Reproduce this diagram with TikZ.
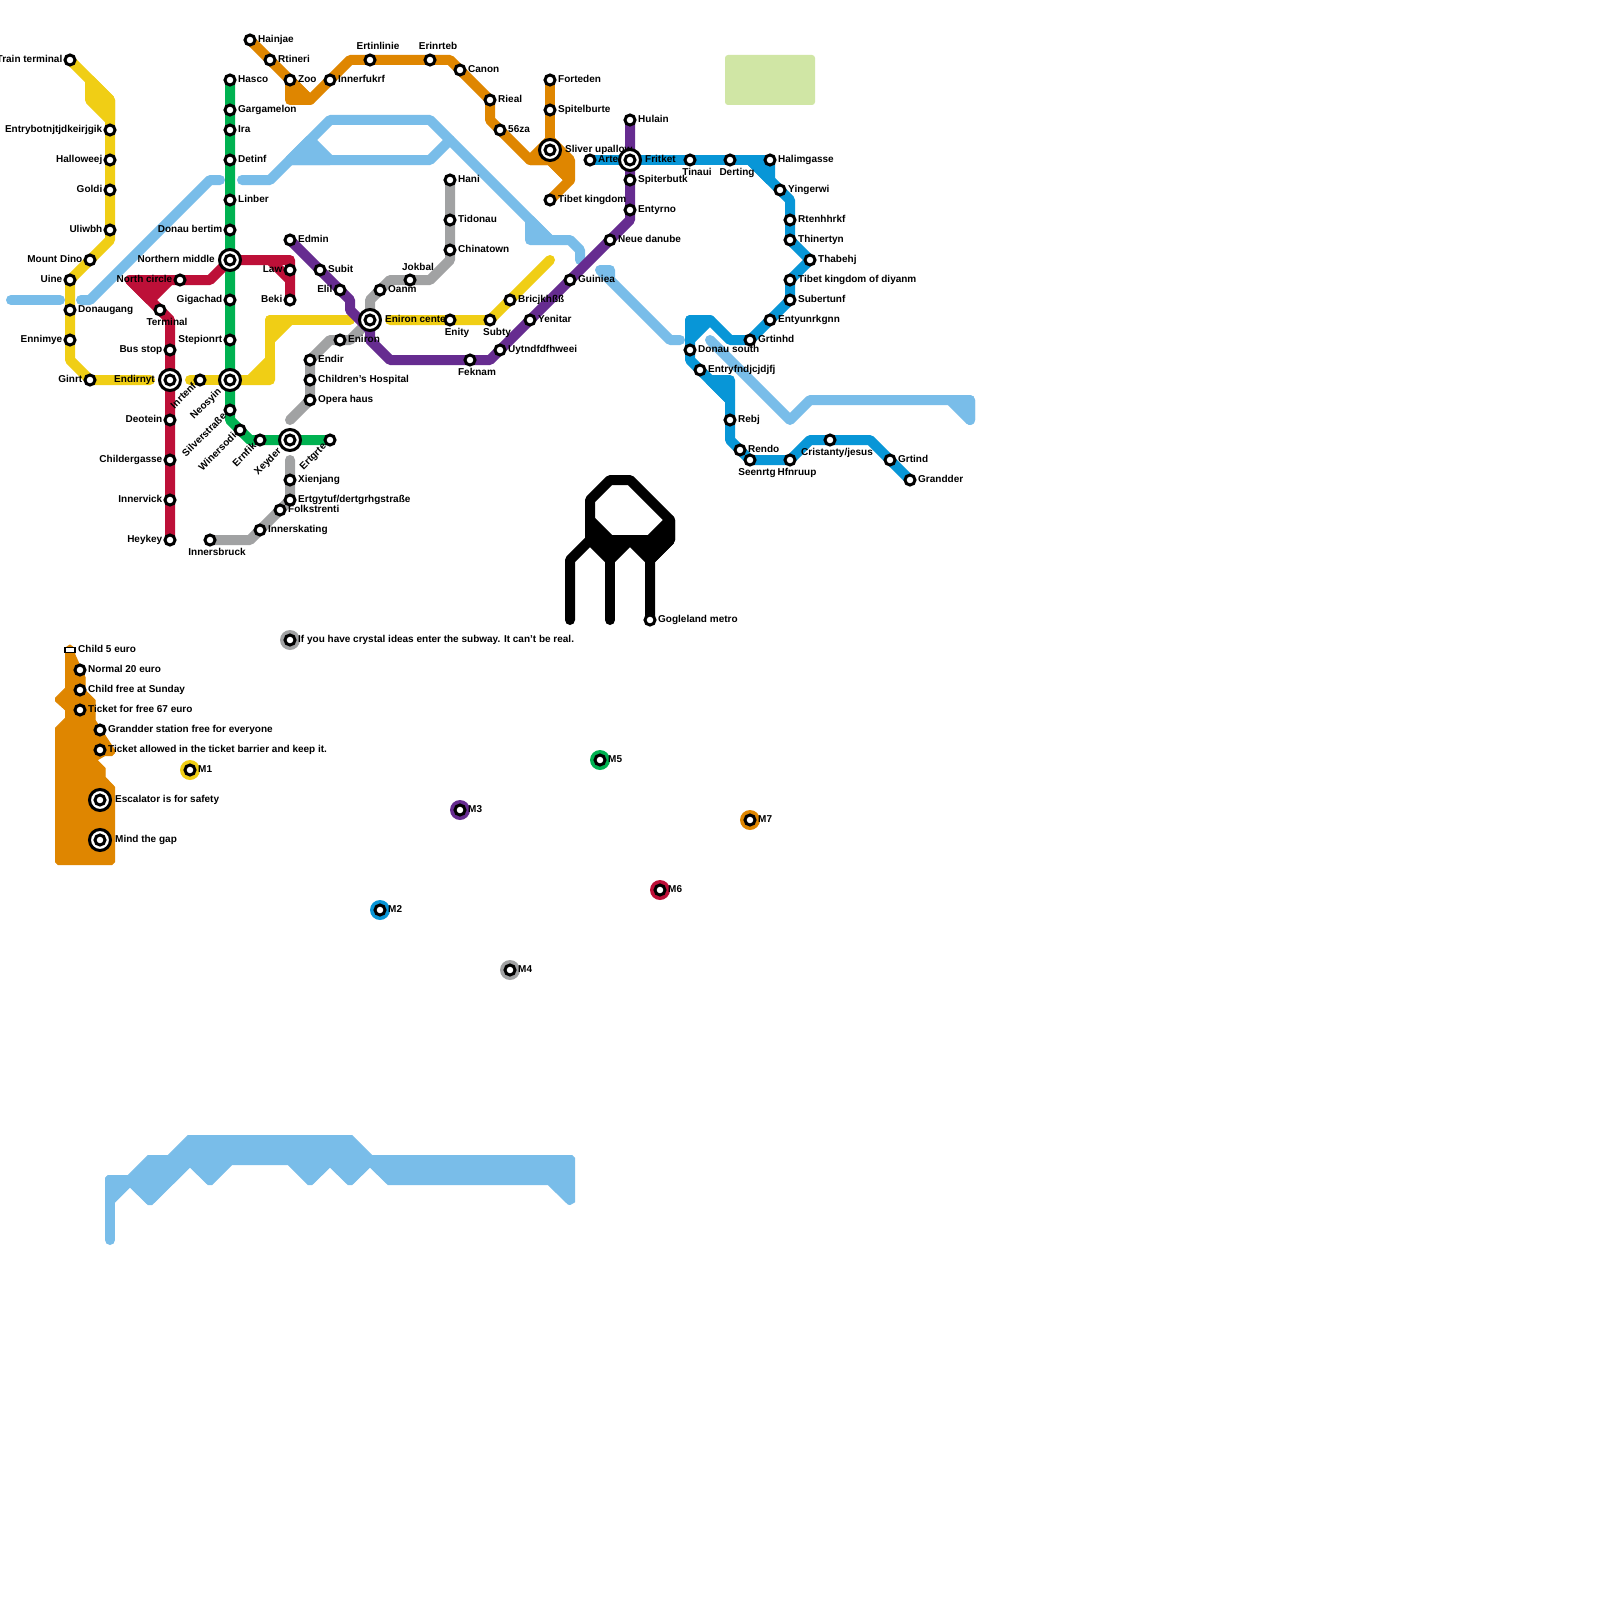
\documentclass[tikz,border=0pt]{standalone}
\usepackage{fontspec}
\setmainfont{Liberation Sans}
\pgfdeclarelayer{lines}\pgfdeclarelayer{labels}
\pgfsetlayers{lines,labels,main}
\definecolor{myyellow}{HTML}{F0CE15}
\definecolor{mygreen}{HTML}{00B251}
\definecolor{myred}{HTML}{BD1038}
\definecolor{myblue}{HTML}{0896D7}
\definecolor{mypurple}{HTML}{662C90}
\definecolor{mygray}{HTML}{A1A2A3}
\definecolor{myorange}{HTML}{DF8600}
\definecolor{mysky}{HTML}{79BDE9}
\definecolor{mypale}{HTML}{D0E6A5}
\tikzset{
 stn/.style={circle,draw=black,fill=white,line width=3pt,minimum size=10pt,inner sep=0pt},
 ringo/.style={circle,draw=black,fill=white,line width=3pt,minimum size=21pt,inner sep=0pt},
 lbl/.style={font=\fontsize{10}{10}\selectfont\bfseries,inner sep=0pt,text=black},
 metro/.style={line width=10pt,line cap=round,line join=round},
 ly/.style={metro,draw=myyellow},
 lg/.style={metro,draw=mygreen},
 lr/.style={metro,draw=myred},
 lb/.style={metro,draw=myblue},
 lp/.style={metro,draw=mypurple},
 la/.style={metro,draw=mygray},
 lo/.style={metro,draw=myorange},
 ls/.style={metro,draw=mysky},
 lk/.style={metro,draw=black},
 disc/.style={circle,minimum size=20pt,inner sep=0pt},
}
\newcommand\PutLab[5]{\begin{pgfonlayer}{labels}\node[lbl,#1] (#2-t) at (#3,#4) {#5};\end{pgfonlayer}}
\newcommand\SR[4]{\node[stn] (#1) at (#2,#3) {};\PutLab{anchor=base west}{#1}{#2+8}{#3+2.7}{#4}}
\newcommand\SL[4]{\node[stn] (#1) at (#2,#3) {};\PutLab{anchor=base east}{#1}{#2-7.5}{#3+2.7}{#4}}
\newcommand\SB[4]{\node[stn] (#1) at (#2,#3) {};\PutLab{anchor=base}{#1}{#2+7}{#3+15}{#4}}
\newcommand\SA[4]{\node[stn] (#1) at (#2,#3) {};\PutLab{anchor=base}{#1}{#2+8}{#3-10}{#4}}
\newcommand\SD[4]{\node[stn] (#1) at (#2,#3) {};\PutLab{anchor=mid east,rotate=45}{#1}{#2-5}{#3+5}{#4}}
\newcommand\IX[3]{\node[ringo] (#1-o) at (#2,#3) {};\node[stn] (#1) at (#2,#3) {};}
\newcommand\IR[4]{\IX{#1}{#2}{#3}\PutLab{anchor=base west}{#1}{#2+15}{#3+2.7}{#4}}
\newcommand\IL[4]{\IX{#1}{#2}{#3}\PutLab{anchor=base east}{#1}{#2-15}{#3+2.7}{#4}}
\newcommand\ID[4]{\IX{#1}{#2}{#3}\PutLab{anchor=mid east,rotate=45}{#1}{#2-10}{#3+10}{#4}}
\newcommand\Disc[4]{\begin{pgfonlayer}{lines}\node[disc,fill=#1] (#2) at (#3,#4) {};\end{pgfonlayer}}
\begin{document}
\begin{tikzpicture}[x=1pt,y=-1pt]
\useasboundingbox (0,0) rectangle (1600,1600);
\begin{pgfonlayer}{lines}
\fill[white] (0,0) rectangle (1600,1600);
\end{pgfonlayer}
% M1 yellow
\SL{trainterminal}{70}{60}{Train terminal}
\SL{entrybot}{110}{130}{Entrybotnjtjdkeirjgik}
\SL{halloweej}{110}{160}{Halloweej}
\SL{goldi}{110}{190}{Goldi}
\SL{uliwbh}{110}{230}{Uliwbh}
\SL{mountdino}{90}{260}{Mount Dino}
\SL{uine}{70}{280}{Uine}
\SR{donaugang}{70}{310}{Donaugang}
\SL{ennimye}{70}{340}{Ennimye}
\SL{ginrt}{90}{380}{Ginrt}
\IL{endirnyt}{170}{380}{Endirnyt}
\SD{inrtenf}{200}{380}{Inrtenf}
\ID{neosyin}{230}{380}{Neosyin}
\IR{enironc}{370}{320}{Eniron center}
\SB{enity}{450}{320}{Enity}
\SB{subty}{490}{320}{Subty}
\SR{bric}{510}{300}{Bricjkhßß}
% M5 green
\SR{hasco}{230}{80}{Hasco}
\SR{gargamelon}{230}{110}{Gargamelon}
\SR{ira}{230}{130}{Ira}
\SR{detinf}{230}{160}{Detinf}
\SR{linber}{230}{200}{Linber}
\SL{donaubertim}{230}{230}{Donau bertim}
\IL{northernmiddle}{230}{260}{Northern middle}
\SL{gigachad}{230}{300}{Gigachad}
\SL{stepionrt}{230}{340}{Stepionrt}
\SD{silver}{230}{410}{Silverstraße}
\SD{winersodi}{240}{430}{Winersodi}
\SD{ernfik}{260}{440}{Ernfik}
\ID{xeyder}{290}{440}{Xeyder}
\SD{ertgrte}{330}{440}{Ertgrte}
% M6 red
\SL{law}{290}{270}{Law}
\SL{beki}{290}{300}{Beki}
\SL{northcircle}{180}{280}{North circle}
\SB{terminal}{160}{310}{Terminal}
\SL{busstop}{170}{350}{Bus stop}
\SL{deotein}{170}{420}{Deotein}
\SL{childergasse}{170}{460}{Childergasse}
\SL{innervick}{170}{500}{Innervick}
\SL{heykey}{170}{540}{Heykey}
% M3 purple
\SR{edmin}{290}{240}{Edmin}
\SR{subit}{320}{270}{Subit}
\SL{elil}{340}{290}{Elil}
\SB{feknam}{470}{360}{Feknam}
\SR{uytn}{500}{350}{Uytndfdfhweei}
\SR{yenitar}{530}{320}{Yenitar}
\SR{guiniea}{570}{280}{Guiniea}
\SR{neuedanube}{610}{240}{Neue danube}
\SR{entyrno}{630}{210}{Entyrno}
\SR{spiterbutk}{630}{180}{Spiterbutk}
\IR{fritket}{630}{160}{Fritket}
\SR{hulain}{630}{120}{Hulain}
% M4 gray
\SR{hani}{450}{180}{Hani}
\SR{tidonau}{450}{220}{Tidonau}
\SR{chinatown}{450}{250}{Chinatown}
\SA{jokbal}{410}{280}{Jokbal}
\SR{oanm}{380}{290}{Oanm}
\SR{eniron}{340}{340}{Eniron}
\SR{endir}{310}{360}{Endir}
\SR{childrens}{310}{380}{Children’s Hospital}
\SR{opera}{310}{400}{Opera haus}
\SR{xienjang}{290}{480}{Xienjang}
\SR{ertgytuf}{290}{500}{Ertgytuf/dertgrhgstraße}
\SR{folkstrenti}{280}{510}{Folkstrenti}
\SR{innerskating}{260}{530}{Innerskating}
\SB{innersbruck}{210}{540}{Innersbruck}
% M7 orange
\SR{hainjae}{250}{40}{Hainjae}
\SR{rtineri}{270}{60}{Rtineri}
\SR{zoo}{290}{80}{Zoo}
\SR{innerfukrf}{330}{80}{Innerfukrf}
\SA{ertinlinie}{370}{60}{Ertinlinie}
\SA{erinrteb}{430}{60}{Erinrteb}
\SR{canon}{460}{70}{Canon}
\SR{rieal}{490}{100}{Rieal}
\SR{za56}{500}{130}{56za}
\SR{forteden}{550}{80}{Forteden}
\SR{spitelburte}{550}{110}{Spitelburte}
\IR{sliver}{550}{150}{Sliver upallow}
\SR{tibetk}{550}{200}{Tibet kingdom}
% M2 blue
\SR{arte}{590}{160}{Arte}
\SB{tinaui}{690}{160}{Tinaui}
\SB{derting}{730}{160}{Derting}
\SR{halimgasse}{770}{160}{Halimgasse}
\SR{yingerwi}{780}{190}{Yingerwi}
\SR{rtenhhrkf}{790}{220}{Rtenhhrkf}
\SR{thinertyn}{790}{240}{Thinertyn}
\SR{thabehj}{810}{260}{Thabehj}
\SR{tibetd}{790}{280}{Tibet kingdom of diyanm}
\SR{subertunf}{790}{300}{Subertunf}
\SR{entyun}{770}{320}{Entyunrkgnn}
\SR{grtinhd}{750}{340}{Grtinhd}
\SR{donausouth}{690}{350}{Donau south}
\SR{entryf}{700}{370}{Entryfndjcjdjfj}
\SR{rebj}{730}{420}{Rebj}
\SR{rendo}{740}{450}{Rendo}
\SB{seenrtg}{750}{460}{Seenrtg}
\SB{hfnruup}{790}{460}{Hfnruup}
\SB{cristanty}{830}{440}{Cristanty/jesus}
\SR{grtind}{890}{460}{Grtind}
\SR{grandder}{910}{480}{Grandder}
% black
\SR{gogleland}{650}{620}{Gogleland metro}
% legend
\node[draw=black,fill=white,line width=1.5pt,minimum width=10pt,minimum height=5pt,inner sep=0pt] (child5) at (70,650) {};
\PutLab{anchor=base west}{child5}{78}{652.7}{Child 5 euro}
\SR{normal20}{80}{670}{Normal 20 euro}
\SR{childfree}{80}{690}{Child free at Sunday}
\SR{ticketfree}{80}{710}{Ticket for free 67 euro}
\SR{granddersf}{100}{730}{Grandder station free for everyone}
\SR{ticketallowed}{100}{750}{Ticket allowed in the ticket barrier and keep it.}
\IR{escalator}{100}{800}{Escalator is for safety}
\IR{mindgap}{100}{840}{Mind the gap}
% discs
\SR{crystal}{290}{640}{If you have crystal ideas enter the subway. It can’t be real.}
\SR{m1}{190}{770}{M1}
\SR{m2}{380}{910}{M2}
\SR{m3}{460}{810}{M3}
\SR{m4}{510}{970}{M4}
\SR{m5}{600}{760}{M5}
\SR{m6}{660}{890}{M6}
\SR{m7}{750}{820}{M7}
\Disc{mygray}{d0}{290}{640}
\Disc{myyellow}{d1}{190}{770}
\Disc{myblue}{d2}{380}{910}
\Disc{mypurple}{d3}{460}{810}
\Disc{mygray}{d4}{510}{970}
\Disc{mygreen}{d5}{600}{760}
\Disc{myred}{d6}{660}{890}
\Disc{myorange}{d7}{750}{820}

\begin{pgfonlayer}{lines}
% pale block
\fill[mypale,rounded corners=3pt] (725,55) rectangle (815,105);
% sky
\draw[ls] (11,300) -- (60,300);
\draw[ls] (81,300) -- (90,300) -- (210,180) -- (220,180);
\draw[ls] (242,180) -- (270,180) -- (330,120) -- (430,120) -- (530,220) -- (550,240) -- (570,240) -- (580,250) -- (580,260);
\draw[ls] (290,160) -- (430,160) -- (450,140);
\draw[ls,fill=mysky] (290,160) -- (310,140) -- (330,160) -- cycle;
\draw[ls,fill=mysky] (530,220) -- (530,240) -- (550,240) -- cycle;
\draw[ls] (600,270) -- (610,270) -- (610,280) -- (600,270) -- (670,340) -- (680,340);
\draw[ls] (710,340) -- (790,420) -- (810,400) -- (970,400) -- (970,420);
\draw[ls,fill=mysky] (950,400) -- (970,400) -- (970,420) -- cycle;
\draw[ls] (110,1240) -- (110,1180);
\fill[mysky,draw=mysky,line width=1pt,line join=round] (105.5,1178) -- (108,1175.5) -- (128,1175.5) -- (148,1155.5) -- (168,1155.5) -- (188,1135.5) -- (352,1135.5) -- (372,1155.5) -- (572,1155.5) -- (574.5,1158) -- (574.5,1202) -- (570,1204.5) -- (568,1204) -- (548,1184.5) -- (388,1184.5) -- (370,1167) -- (352,1184.5) -- (348,1184.5) -- (330,1167) -- (312,1184.5) -- (308,1184.5) -- (288,1164.5) -- (232,1164.5) -- (212,1184.5) -- (208,1184.5) -- (190,1167) -- (152,1204.5) -- (148,1204.5) -- (130,1187) -- (115,1202) -- (105.5,1202) -- cycle;
% orange
\draw[lo] (hainjae.center) -- (rtineri.center) -- (zoo.center) -- (310,100) -- (innerfukrf.center) -- (350,60) -- (ertinlinie.center) -- (erinrteb.center) -- (450,60) -- (canon.center) -- (rieal.center) -- (490,120) -- (za56.center) -- (530,160) -- (550,160) -- (570,180) -- (tibetk.center);
\draw[lo,fill=myorange] (zoo.center) -- (290,100) -- (310,100) -- cycle;
\draw[lo] (forteden.center) -- (spitelburte.center) -- (sliver.center);
\draw[lo,fill=myorange] (530,160) -- (550,140) -- (570,160) -- (570,180) -- (550,160) -- cycle;
\fill[myorange,draw=myorange,line width=1pt,line join=round] (70,645) -- (74,648) -- (75,655) -- (85,677) -- (85,690) -- (95,700) -- (95,720) -- (114.5,750) -- (114.5,753) -- (112,755.5) -- (105,755.5) -- (97,760) -- (105,768) -- (105,777) -- (114.5,787) -- (114.5,862) -- (112,864.5) -- (58,864.5) -- (55.5,862) -- (55.5,728) -- (65.5,718) -- (65.5,710) -- (55.5,701) -- (55.5,698) -- (65.5,688) -- (65.5,648) -- cycle;
% yellow
\draw[ly] (trainterminal.center) -- (110,100) -- (entrybot.center) -- (halloweej.center) -- (goldi.center) -- (uliwbh.center) -- (110,240) -- (mountdino.center) -- (uine.center) -- (donaugang.center) -- (ennimye.center) -- (70,360) -- (ginrt.center) -- (150,380);
\draw[ly,fill=myyellow] (90,80) -- (110,100) -- (110,120) -- (90,100) -- cycle;
\draw[ly,fill=myyellow] (inrtenf.center) -- (190,380) (neosyin.center) -- (250,380) -- (270,360) -- (270,380) -- (250,380);
\draw[ly] (inrtenf.center) -- (neosyin.center);
\draw[ly] (270,360) -- (270,320) -- (350,320);
\draw[ly,fill=myyellow] (270,320) -- (290,320) -- (270,340) -- cycle;
\draw[ly] (390,320) -- (enity.center) -- (subty.center) -- (bric.center) -- (550,260);
% gray
\draw[la] (hani.center) -- (tidonau.center) -- (chinatown.center) -- (450,260) -- (430,280) -- (jokbal.center) -- (390,280) -- (370,300) -- (enironc.center) -- (350,340) -- (eniron.center) -- (330,340) -- (endir.center) -- (childrens.center) -- (opera.center) -- (290,420);
\draw[la] (290,460) -- (xienjang.center) -- (ertgytuf.center) -- (folkstrenti.center) -- (innerskating.center) -- (250,540) -- (innersbruck.center);
% green
\draw[lg] (hasco.center) -- (gargamelon.center) -- (ira.center) -- (detinf.center) -- (linber.center) -- (donaubertim.center) -- (northernmiddle.center) -- (gigachad.center) -- (stepionrt.center) -- (neosyin.center) -- (silver.center) -- (230,420) -- (winersodi.center) -- (250,440) -- (ernfik.center) -- (xeyder.center) -- (ertgrte.center);
% blue
\draw[lb] (arte.center) -- (fritket.center) -- (tinaui.center) -- (derting.center) -- (halimgasse.center) -- (770,180);
\draw[lb] (750,160) -- (yingerwi.center) -- (790,200) -- (rtenhhrkf.center) -- (thinertyn.center) -- (thabehj.center) -- (tibetd.center) -- (subertunf.center) -- (entyun.center) -- (grtinhd.center) -- (730,340) -- (710,320) -- (690,320) -- (donausouth.center) -- (690,360) -- (entryf.center) -- (730,400) -- (rebj.center) -- (730,440) -- (rendo.center) -- (seenrtg.center) -- (hfnruup.center) -- (810,440) -- (cristanty.center) -- (870,440) -- (grtind.center) -- (grandder.center);
\draw[lb,fill=myblue] (750,160) -- (770,160) -- (770,180) -- cycle;
\draw[lb,fill=myblue] (690,320) -- (710,320) -- (690,340) -- cycle;
\draw[lb,fill=myblue] (710,380) -- (730,380) -- (730,400) -- cycle;
% purple
\draw[lp] (edmin.center) -- (subit.center) -- (elil.center) -- (350,300) -- (350,310) -- (370,330) -- (370,340) -- (390,360) -- (feknam.center) -- (490,360) -- (uytn.center) -- (yenitar.center) -- (guiniea.center) -- (neuedanube.center) -- (630,220) -- (entyrno.center) -- (spiterbutk.center) -- (fritket.center) -- (hulain.center);
% red
\draw[lr] (beki.center) -- (law.center) -- (290,260) -- (northernmiddle.center) -- (210,280) -- (northcircle.center) -- (130,280) -- (terminal.center) -- (170,320) -- (busstop.center) -- (endirnyt.center) -- (deotein.center) -- (childergasse.center) -- (innervick.center) -- (heykey.center);
\draw[lr] (270,260) -- (290,280);
\draw[lr,fill=myred] (130,280) -- (170,280) -- (150,300) -- cycle;
% black
\draw[lk] (570,620) -- (570,560) -- (590,540) -- (590,500) -- (610,480) -- (630,480) -- (670,520) -- (670,540) -- (650,560) -- (gogleland.center);
\draw[lk] (610,620) -- (610,560);
\draw[lk,fill=black] (590,520) -- (610,540) -- (650,540) -- (670,520) -- (670,540) -- (650,560) -- (630,540) -- (610,560) -- (590,540) -- cycle;
\end{pgfonlayer}
\end{tikzpicture}
\end{document}
